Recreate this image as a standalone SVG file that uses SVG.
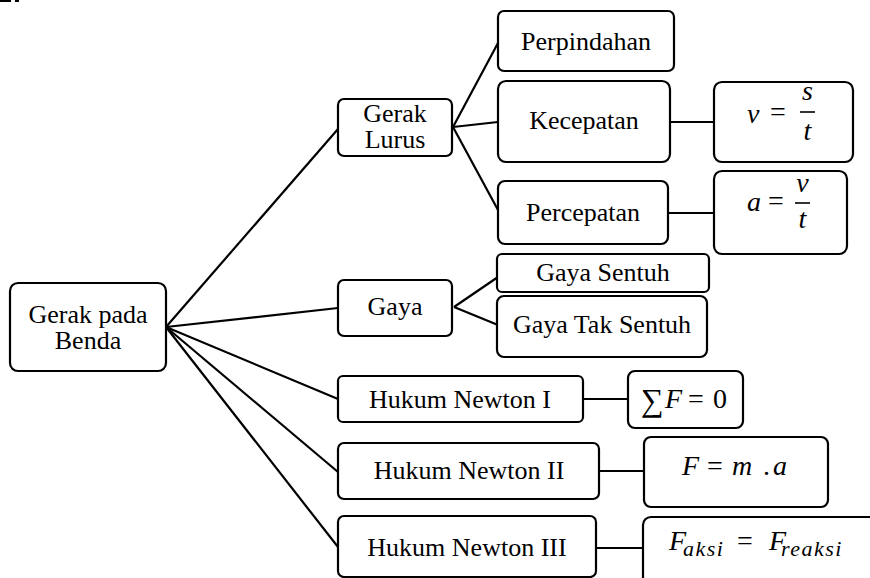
<svg xmlns="http://www.w3.org/2000/svg" width="870" height="578" viewBox="0 0 870 578">
<style>
.box{fill:#fff;stroke:#000;stroke-width:2.2}
.t{font-family:"Liberation Serif","Times New Roman",Tinos,"Noto Serif","DejaVu Serif",serif;font-size:26px;text-anchor:middle;fill:#000}
.m{font-family:"Liberation Serif","Times New Roman",Tinos,"Noto Serif","DejaVu Serif",serif;font-size:28px;font-style:italic;fill:#000}
.mr{font-family:"Liberation Serif","Times New Roman",Tinos,"Noto Serif","DejaVu Serif",serif;font-size:28px;fill:#000}
.sub{font-size:22px;font-style:italic}
.c{stroke:#000;stroke-width:2.2;fill:none}
</style>
<rect width="870" height="578" fill="#fff"/>
<rect x="0" y="0" width="11" height="2" fill="#000"/>
<rect x="15" y="0" width="4" height="2" fill="#000"/>
<g id="connectors">
<line class="c" x1="166" y1="327" x2="338" y2="129"/>
<line class="c" x1="166" y1="327" x2="338" y2="308"/>
<line class="c" x1="166" y1="327" x2="338" y2="399"/>
<line class="c" x1="166" y1="327" x2="338" y2="472"/>
<line class="c" x1="166" y1="327" x2="338" y2="547"/>
<line class="c" x1="453" y1="127" x2="498" y2="43"/>
<line class="c" x1="453" y1="127" x2="498" y2="122"/>
<line class="c" x1="453" y1="127" x2="498" y2="210"/>
<line class="c" x1="454" y1="307" x2="498" y2="277"/>
<line class="c" x1="454" y1="307" x2="498" y2="325"/>
<line class="c" x1="670" y1="122" x2="714" y2="122"/>
<line class="c" x1="668" y1="213" x2="714" y2="213"/>
<line class="c" x1="583" y1="399" x2="628" y2="399"/>
<line class="c" x1="599" y1="471" x2="644" y2="471"/>
<line class="c" x1="596" y1="548" x2="643" y2="548"/>
</g>
<g id="root">
<rect class="box" x="10" y="283" width="156" height="88" rx="8"/>
<text class="t" x="88" y="323">Gerak pada<tspan x="88" dy="26">Benda</tspan></text>
</g>
<g id="gerakLurus">
<rect class="box" x="338" y="99" width="114" height="57" rx="6"/>
<text class="t" x="395" y="122">Gerak<tspan x="395" dy="26">Lurus</tspan></text>
</g>
<g id="perpindahan">
<rect class="box" x="498" y="11" width="176" height="60" rx="6"/>
<text class="t" x="586" y="50">Perpindahan</text>
</g>
<g id="kecepatan">
<rect class="box" x="498" y="81" width="172" height="81" rx="8"/>
<text class="t" x="584" y="129">Kecepatan</text>
</g>
<g id="percepatan">
<rect class="box" x="498" y="181" width="170" height="63" rx="7"/>
<text class="t" x="583" y="221">Percepatan</text>
</g>
<g id="rumusKecepatan">
<rect class="box" x="714" y="82" width="139" height="80" rx="8"/>
<text class="m" x="747" y="123">v</text>
<text class="mr" x="770" y="121">=</text>
<line x1="800" y1="112" x2="815" y2="112" stroke="#000" stroke-width="1.6"/>
<text class="m" x="807.5" y="100" text-anchor="middle">s</text>
<text class="m" x="807.5" y="140" text-anchor="middle">t</text>
</g>
<g id="rumusPercepatan">
<rect class="box" x="714" y="171" width="133" height="83" rx="8"/>
<text class="m" x="747" y="211">a</text>
<text class="mr" x="768" y="210">=</text>
<line x1="795" y1="203" x2="810" y2="203" stroke="#000" stroke-width="1.6"/>
<text class="m" x="802.5" y="192" text-anchor="middle">v</text>
<text class="m" x="802.5" y="228" text-anchor="middle">t</text>
</g>
<g id="gaya">
<rect class="box" x="338" y="280" width="114" height="56" rx="6"/>
<text class="t" x="395" y="315">Gaya</text>
</g>
<g id="gayaSentuh">
<rect class="box" x="497" y="254" width="212" height="38" rx="5"/>
<text class="t" x="603" y="281">Gaya Sentuh</text>
</g>
<g id="gayaTakSentuh">
<rect class="box" x="497" y="296" width="210" height="61" rx="7"/>
<text class="t" x="602" y="333">Gaya Tak Sentuh</text>
</g>
<g id="newton1">
<rect class="box" x="338" y="376" width="245" height="46" rx="5"/>
<text class="t" x="460" y="408">Hukum Newton I</text>
</g>
<g id="newton2">
<rect class="box" x="338" y="443" width="261" height="56" rx="6"/>
<text class="t" x="469" y="479">Hukum Newton II</text>
</g>
<g id="newton3">
<rect class="box" x="338" y="516" width="258" height="61" rx="6"/>
<text class="t" x="467" y="556">Hukum Newton III</text>
</g>
<g id="rumusNewton1">
<rect class="box" x="628" y="371" width="115" height="57" rx="7"/>
<text class="mr" x="641" y="411" style="font-size:32px">∑</text>
<text class="m" x="665" y="408">F</text>
<text class="mr" x="688" y="408">=</text>
<text class="mr" x="713" y="408">0</text>
</g>
<g id="rumusNewton2">
<rect class="box" x="644" y="437" width="184" height="70" rx="7"/>
<text class="m" x="682" y="475">F</text>
<text class="mr" x="707" y="475">=</text>
<text class="m" x="732" y="475">m</text>
<text class="mr" x="763" y="475">.</text>
<text class="m" x="773" y="475">a</text>
</g>
<g id="rumusNewton3">
<rect class="box" x="643" y="517" width="260" height="90" rx="8"/>
<text class="m" x="669" y="550">F<tspan class="sub" x="683" dy="6" letter-spacing="1.5">aksi</tspan></text>
<text class="mr" x="737" y="550">=</text>
<text class="m" x="769" y="550">F<tspan class="sub" x="781" dy="6" letter-spacing="1.5">reaksi</tspan></text>
</g>
</svg>
